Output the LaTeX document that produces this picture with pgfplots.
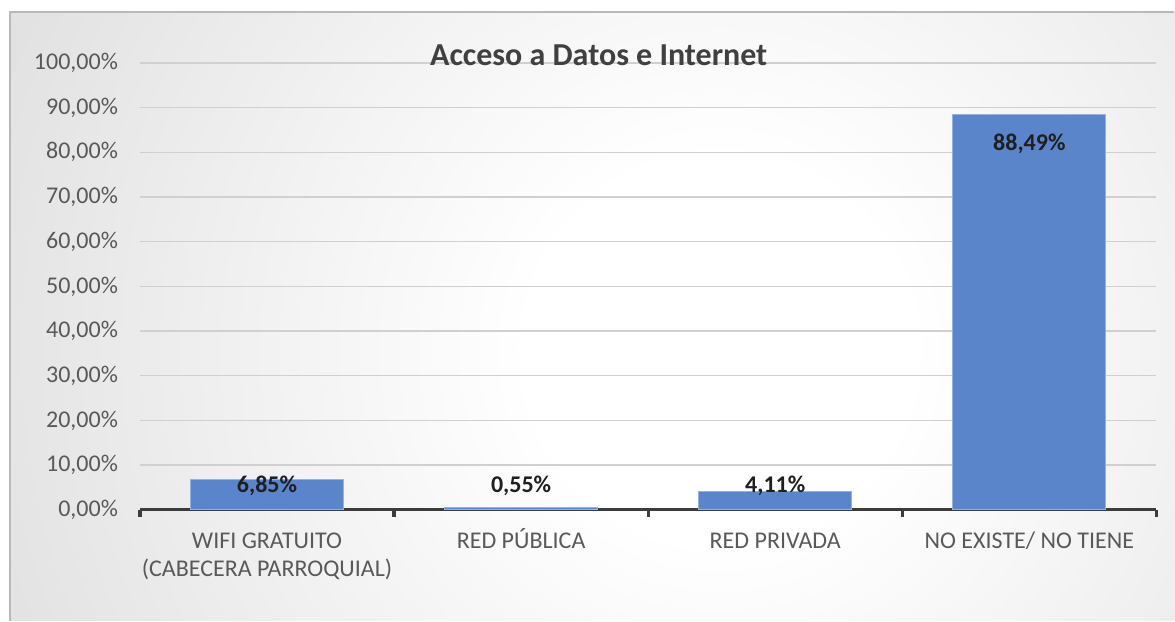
\documentclass[border=0pt]{standalone}
\usepackage{pgfplots}
\pgfplotsset{compat=1.18}
\usepackage{fontspec}
\setmainfont{Carlito}
\definecolor{barblue}{RGB}{91,133,202}
\definecolor{baredge}{RGB}{150,177,225}
\definecolor{ticklab}{RGB}{89,89,89}
\definecolor{titlecol}{RGB}{64,64,64}
\definecolor{axiscol}{RGB}{60,60,60}
\definecolor{gridcol}{RGB}{208,208,208}
\definecolor{framecol}{RGB}{185,185,185}
\pgfdeclareradialshading{bgshade}{\pgfpoint{0bp}{0bp}}{color(0bp)=(white); color(6bp)=(white); color(44bp)=(black!24); color(70bp)=(black!26)}
\begin{document}
\begin{tikzpicture}[x=0.5pt,y=0.5pt]
\fill[white] (0,0) rectangle (1175,621);
\begin{scope}
\clip (10,0) rectangle (1175,609);
\shade[shading=bgshade] (-80,-529) rectangle (1520,1071);
\end{scope}
\draw[framecol, line width=0.6pt] (10,0) -- (10,609) -- (1175,609);
\begin{axis}[
  at={(70pt,55.5pt)}, anchor=south west,
  scale only axis, width=508.5pt, height=223.5pt,
  xmin=-0.5, xmax=3.5, ymin=0, ymax=100,
  ybar, bar width=76.5pt,
  /pgf/number format/assume math mode=true,
  axis x line*=bottom, axis y line*=left,
  y axis line style={draw=none},
  x axis line style={axiscol, line width=1.6pt},
  xtick={0,1,2,3},
  xticklabels={{WIFI GRATUITO\\(CABECERA PARROQUIAL)}, {RED PÚBLICA}, {RED PRIVADA}, {NO EXISTE/ NO TIENE}},
  typeset ticklabels with strut,
  x tick label style={align=center, font=\fontsize{12}{14}\selectfont, color=ticklab, yshift=-6pt},
  minor xtick={-0.5,0.5,1.5,2.5,3.5},
  xtick align=outside,
  major tick length=0pt,
  minor tick length=3.5pt,
  every minor tick/.append style={draw=axiscol, line width=1.6pt},
  minor x tick style={draw=axiscol, line width=1.6pt},
  ytick={0,10,...,100},
  yticklabel={\pgfmathprintnumber[fixed,fixed zerofill,precision=2,use comma]{\tick}\%},
  y tick label style={font=\fontsize{12}{14}\selectfont, color=ticklab, xshift=-7.5pt},
  major y tick style={draw=none},
  ymajorgrids, grid style={gridcol, line width=0.6pt},
  clip=false,
]
\addplot[fill=barblue, draw=baredge, line width=0.5pt,
  visualization depends on={y \as \rawy},
  nodes near coords={\pgfmathprintnumber[fixed,fixed zerofill,precision=2,use comma]{\pgfplotspointmeta}\%},
  every node near coord/.append style={font=\fontsize{12}{14}\bfseries, color=black!88, anchor=center, yshift={(max(\rawy-6.6,5.4)-\rawy)*2.235pt}},
] coordinates {(0,6.85) (1,0.55) (2,4.11) (3,88.49)};
\end{axis}
\node[font=\fontsize{16}{19}\selectfont\bfseries, color=titlecol] at (599,566) {Acceso a Datos e Internet};
\end{tikzpicture}
\end{document}
